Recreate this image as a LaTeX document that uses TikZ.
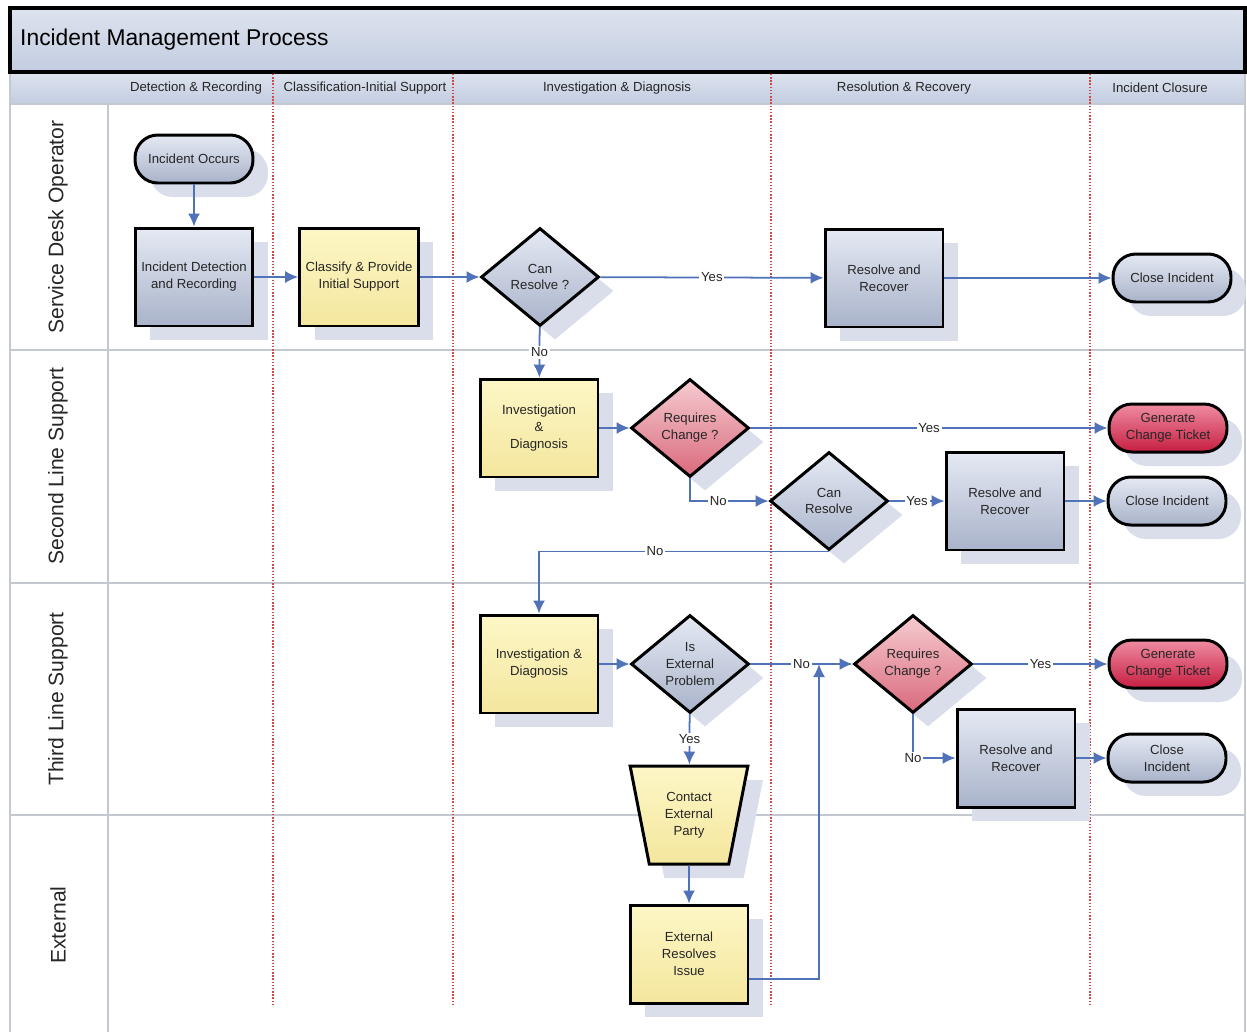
\documentclass[tikz,border=0pt]{standalone}
\usepackage{fontspec}
\setmainfont{Liberation Sans}
\usetikzlibrary{arrows.meta,shapes.geometric,shadows}

\definecolor{greytop}{HTML}{E4E9F3}
\definecolor{greybot}{HTML}{A9B3CA}
\definecolor{yellowtop}{HTML}{FDF7C6}
\definecolor{yellowbot}{HTML}{F4E69E}
\definecolor{pinktop}{HTML}{F6CBD1}
\definecolor{pinkbot}{HTML}{D96A7C}
\definecolor{redtop}{HTML}{EF8CA2}
\definecolor{redbot}{HTML}{C71E41}
\definecolor{shadowc}{HTML}{D9DEEA}
\definecolor{flowc}{HTML}{4F72B8}
\definecolor{bandtop}{HTML}{DDE3EE}
\definecolor{bandbot}{HTML}{C3CDE1}
\definecolor{lanec}{HTML}{C4C8D0}
\definecolor{phasec}{HTML}{D04848}

\begin{document}
\begin{tikzpicture}[x=0.02cm,y=-0.02cm]
\tikzstyle{stepbase}=[draw, line width=1.7pt, font=\fontsize{7.5}{9.6}\selectfont, align=center, text=black!85, drop shadow={shadow xshift=0.3cm, shadow yshift=-0.28cm, fill=shadowc, opacity=1}]
\tikzstyle{greybox}=[stepbase, rectangle, minimum width=2.36cm, minimum height=1.96cm, top color=greytop, bottom color=greybot]
\tikzstyle{yellowbox}=[stepbase, rectangle, minimum width=2.36cm, minimum height=1.96cm, top color=yellowtop, bottom color=yellowbot]
\tikzstyle{terminal}=[stepbase, rectangle, rounded corners=13pt, minimum width=2.36cm, minimum height=0.96cm, top color=greytop, bottom color=greybot]
\tikzstyle{redterminal}=[terminal, top color=redtop, bottom color=redbot]
\tikzstyle{decision}=[stepbase, diamond, aspect=1.2, inner sep=0pt, minimum width=2.36cm, minimum height=1.96cm, top color=greytop, bottom color=greybot]
\tikzstyle{pinkdecision}=[decision, top color=pinktop, bottom color=pinkbot]
\tikzstyle{flow}=[draw=flowc, line width=1pt, -{Latex[length=2.6mm, width=2.4mm]}]
\tikzstyle{flowlabel}=[fill=white, inner sep=1pt, font=\fontsize{7.5}{9}\selectfont, text=black!85]
\tikzstyle{phaseline}=[draw=phasec, densely dotted, line width=0.8pt]
\tikzstyle{laneline}=[draw=lanec, line width=0.6pt]
\tikzstyle{phaselabel}=[font=\fontsize{7.5}{9}\selectfont, text=black!85]
\tikzstyle{lanelabel}=[rotate=90, font=\fontsize{12}{14}\selectfont, text=black!85]
    \useasboundingbox (0,0) rectangle (1247,1032);
    % frame, bands and lanes
    \path[top color=bandtop, bottom color=bandbot] (10,72) rectangle (1245,104);
    \draw[laneline] (10,104) -- (1245,104);
    \draw[laneline] (10,72) -- (10,1032);
    \draw[laneline] (1245,72) -- (1245,1032);
    \draw[laneline] (108,104) -- (108,1032);
    \draw[laneline] (10,350) -- (1245,350);
    \draw[laneline] (10,583) -- (1245,583);
    \draw[laneline] (10,815) -- (1245,815);
    \draw[line width=1.8pt, top color=bandtop, bottom color=bandbot] (10,8) rectangle (1245,72);
    \node[anchor=west, font=\fontsize{13}{15}\selectfont] (title) at (14,40) {Incident Management Process};
    \draw[phaseline] (273,74) -- (273,1005);
    \draw[phaseline] (453,74) -- (453,1005);
    \draw[phaseline] (771,74) -- (771,1005);
    \draw[phaseline] (1090,74) -- (1090,1005);
    \node[phaselabel] (ph1) at (196,88) {Detection \& Recording};
    \node[phaselabel] (ph2) at (365,88) {Classification-Initial Support};
    \node[phaselabel] (ph3) at (617,88) {Investigation \& Diagnosis};
    \node[phaselabel] (ph4) at (904,88) {Resolution \& Recovery};
    \node[phaselabel] (ph5) at (1160,88) {Incident Closure};
    \node[lanelabel] (lane1) at (58,227) {Service Desk Operator};
    \node[lanelabel] (lane2) at (58,466) {Second Line Support};
    \node[lanelabel] (lane3) at (58,699) {Third Line Support};
    \node[lanelabel] (lane4) at (58,925) {External};
    % service desk operator
    \node[terminal] (occur) at (194,159) {Incident Occurs};
    \node[greybox] (detect) at (194,277) {Incident Detection\\and Recording};
    \node[yellowbox] (classify) at (359,277) {Classify \& Provide\\Initial Support};
    \node[decision] (canres1) at (540,277) {Can\\Resolve ?};
    \node[greybox] (resolve1) at (884,278) {Resolve and\\Recover};
    \node[terminal] (close1) at (1172,278) {Close Incident};
    % second line support
    \node[yellowbox] (invest2) at (539,428) {Investigation\\\&\\Diagnosis};
    \node[pinkdecision] (reqchg2) at (690,428) {Requires\\Change ?};
    \node[redterminal] (ticket2) at (1168,428) {Generate\\Change Ticket};
    \node[decision] (canres2) at (829,501) {Can\\Resolve};
    \node[greybox] (resolve2) at (1005,501) {Resolve and\\Recover};
    \node[terminal] (close2) at (1167,501) {Close Incident};
    % third line support
    \node[yellowbox] (invest3) at (539,664) {Investigation \&\\Diagnosis};
    \node[decision] (isext) at (690,664) {Is\\External\\Problem};
    \node[pinkdecision] (reqchg3) at (913,664) {Requires\\Change ?};
    \node[redterminal] (ticket3) at (1168,664) {Generate\\Change Ticket};
    \node[greybox] (resolve3) at (1016,758) {Resolve and\\Recover};
    \node[terminal] (close3) at (1167,758) {Close\\Incident};
    % external
    \node[stepbase, trapezium, trapezium angle=75.7, shape border rotate=180, trapezium stretches=true, minimum width=2.36cm, minimum height=1.96cm, inner sep=0pt, top color=yellowtop, bottom color=yellowbot] (contact) at (689,815) {Contact\\External\\Party};
    \node[yellowbox] (extres) at (689,954) {External\\Resolves\\Issue};
    \coordinate (merge) at (819,664);
    % connectors
    \draw[flow] (occur) -- (detect);
    \draw[flow] (detect) -- (classify);
    \draw[flow] (classify) -- (canres1);
    \draw[flow] (canres1) -- (resolve1) node[midway, flowlabel] {Yes};
    \draw[flow] (resolve1) -- (close1);
    \draw[flow] (canres1) -- (invest2) node[midway, flowlabel] {No};
    \draw[flow] (invest2) -- (reqchg2);
    \draw[flow] (reqchg2) -- (ticket2) node[midway, flowlabel] {Yes};
    \draw[flow] (reqchg2.south) |- (canres2.west) node[pos=0.68, flowlabel] {No};
    \draw[flow] (canres2) -- (resolve2) node[midway, flowlabel] {Yes};
    \draw[flow] (resolve2) -- (close2);
    \draw[flow] (canres2.south) -| (invest3.north) node[pos=0.3, flowlabel] {No};
    \draw[flow] (invest3) -- (isext);
    \draw[flow] (isext) -- (reqchg3) node[midway, flowlabel] {No};
    \draw[flow] (isext) -- (contact) node[midway, flowlabel] {Yes};
    \draw[flow] (contact) -- (extres);
    \draw[flow] ([yshift=-0.5cm]extres.east) -| (merge);
    \draw[flow] (reqchg3) -- (ticket3) node[midway, flowlabel] {Yes};
    \draw[flow] (reqchg3.south) |- (resolve3.west) node[pos=0.5, flowlabel] {No};
    \draw[flow] (resolve3) -- (close3);
\end{tikzpicture}
\end{document}
